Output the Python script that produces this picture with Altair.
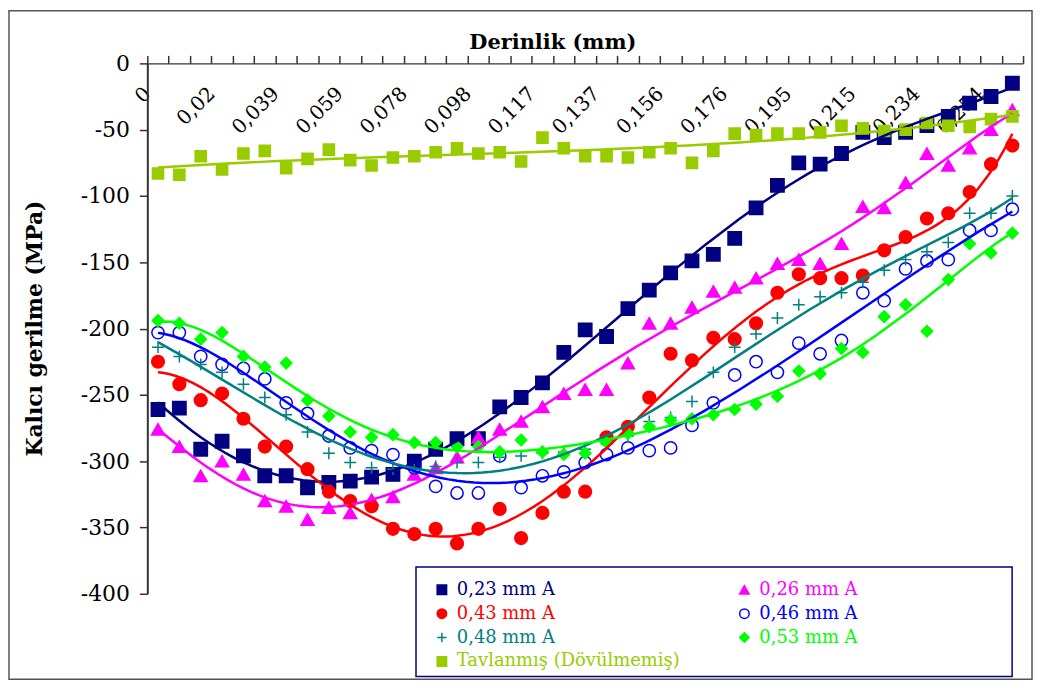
import altair as alt
import pandas as pd

# ---------------- data ----------------
DEPTHS = ["0", "0,007", "0,013", "0,02", "0,026", "0,033", "0,039", "0,046", "0,052",
          "0,059", "0,065", "0,072", "0,078", "0,085", "0,091", "0,098", "0,104",
          "0,111", "0,117", "0,124", "0,13", "0,137", "0,143", "0,15", "0,156",
          "0,163", "0,169", "0,176", "0,182", "0,189", "0,195", "0,202", "0,208",
          "0,215", "0,221", "0,228", "0,234", "0,241", "0,247", "0,254", "0,26"]
TICK_LABELS = ["0", "0,02", "0,039", "0,059", "0,078", "0,098", "0,117", "0,137",
               "0,156", "0,176", "0,195", "0,215", "0,234", "0,254"]
Y_TICKS = [-400, -350, -300, -250, -200, -150, -100, -50, 0]

S023 = [-261, -260, -291, -285, -296, -311, -311, -320, -316, -315, -312, -310, -300, -291,
        -283, -283, -259, -252, -241, -218, -201, -206, -185, -171, -158, -149, -144, -132,
        -109, -92, -75, -76, -68, -52, -56, -52, -47, -40, -30, -25, -15]
S026 = [-276, -289, -311, -300, -310, -330, -334, -344, -335, -339, -329, -327, -310, -305,
        -297, -282, -276, -270, -259, -249, -246, -246, -226, -196, -196, -184, -172, -169,
        -162, -151, -148, -151, -136, -108, -109, -90, -68, -77, -64, -50, -35]
S043 = [-225, -242, -254, -249, -268, -289, -289, -306, -323, -330, -334, -351, -355, -351,
        -362, -351, -336, -358, -339, -323, -323, -282, -274, -252, -219, -224, -207, -208,
        -196, -173, -159, -162, -162, -160, -141, -131, -117, -113, -97, -76, -62]
S046 = [-203, -203, -221, -227, -230, -238, -256, -264, -281, -290, -292, -295, -305, -319,
        -324, -324, -296, -320, -311, -308, -301, -295, -290, -292, -290, -273, -256, -235,
        -225, -233, -211, -219, -209, -173, -179, -155, -149, -148, -126, -126, -110]
S048 = [-214, -221, -227, -233, -242, -252, -265, -278, -294, -301, -305, -306, -306, -304,
        -301, -301, -297, -296, -294, -293, -291, -287, -281, -270, -267, -255, -233, -214,
        -204, -192, -182, -176, -173, -165, -156, -148, -142, -135, -113, -113, -100]
S053 = [-194, -196, -208, -203, -221, -229, -226, -254, -266, -278, -282, -280, -286, -286,
        -289, -289, -293, -284, -293, -295, -294, -286, -279, -274, -269, -268, -265, -261,
        -257, -251, -232, -234, -215, -218, -191, -182, -202, -163, -136, -143, -128]
STAV = [-83, -84, -70, -80, -68, -66, -79, -72, -65, -73, -77, -71, -70, -67, -64, -68, -67,
        -74, -56, -64, -70, -70, -71, -67, -64, -75, -66, -53, -54, -53, -53, -52, -47, -49,
        -51, -50, -45, -47, -48, -42, -40]

SERIES = ["0,23 mm A", "0,26 mm A", "0,43 mm A", "0,46 mm A", "0,48 mm A", "0,53 mm A",
          "Tavlanmış (Dövülmemiş)"]
VALUES = [S023, S026, S043, S046, S048, S053, STAV]

# ---------------- styles ----------------
COLORS = ["#000080", "#FF00FF", "#FF0000", "#0000FF", "#008080", "#00FF00", "#99CC00"]
FILLS = ["#000080", "#FF00FF", "#FF0000", "transparent", "transparent", "#00FF00", "#99CC00"]
SHAPES = ["square", "triangle-up", "circle", "circle", "M-1,0L1,0M0,-1L0,1", "diamond", "square"]
SIZES = [150, 150, 125, 100, 110, 180, 125]
TAV = SERIES[-1]
FONT = "DejaVu Serif"

rows = []
for name, vals in zip(SERIES, VALUES):
    for i, (d, v) in enumerate(zip(DEPTHS, vals)):
        rows.append({"i": i, "depth": d, "series": name, "value": v})
df = pd.DataFrame(rows)

# axis helpers
tick_pos = [k - 0.5 for k in range(len(DEPTHS) + 1)]
label_arr = [d if d in TICK_LABELS else "" for d in DEPTHS] + [""]
label_js = "[" + ",".join("'" + s + "'" for s in label_arr) + "]"
x_label_expr = label_js + "[round(datum.value + 0.5)]"

color_expr = ""
for name, col in zip(SERIES[:-1], COLORS[:-1]):
    color_expr += "datum.value === '" + name + "' ? '" + col + "' : "
color_expr += "'" + COLORS[-1] + "'"

x_scale = alt.Scale(domain=[-0.5, 40.5], nice=False, zero=False)
y_scale = alt.Scale(domain=[-400, 0], nice=False, zero=False)

x_axis = alt.Axis(
    orient="top", values=tick_pos, labelExpr=x_label_expr,
    labelAngle=-45, labelAlign="right", labelBaseline="middle", labelPadding=-35,
    labelFont=FONT, labelFontSize=20, labelColor="black",
    labelOverlap=False, labelFlush=False, labelBound=False,
    tickSize=8, tickWidth=1.5, tickColor="#333333",
    domainColor="#333333", domainWidth=1.5, grid=False,
    title="Derinlik (mm)", titleFont=FONT, titleFontSize=21, titleFontWeight="bold",
    titleColor="black", titleX=407, titleY=-15, titleAlign="center",
    titleBaseline="alphabetic",
)
y_axis = alt.Axis(
    values=Y_TICKS, labelExpr="datum.value + ''",
    labelFont=FONT, labelFontSize=22, labelColor="black", labelPadding=10,
    labelFlush=False, labelOverlap=False,
    tickSize=8, tickWidth=1.5, tickColor="#333333",
    domainColor="#333333", domainWidth=2, grid=False,
    title="Kalıcı gerilme (MPa)", titleFont=FONT, titleFontSize=22, titleFontWeight="bold",
    titleColor="black", titleX=-113, titleY=266, titleAngle=270,
    titleAlign="center", titleBaseline="middle",
)

leg = alt.Legend(
    title=None, orient="none", legendX=287, legendY=520, columns=2,
    direction="horizontal",
    columnPadding=56, rowPadding=6, padding=0,
    symbolSize=90, symbolStrokeWidth=1.5,
    labelFont=FONT, labelFontSize=18, labelOffset=6, labelLimit=500,
    labelColor={"expr": color_expr},
)

base = alt.Chart(df)

points = base.mark_point(strokeWidth=1.5, opacity=1).encode(
    x=alt.X("i:Q", scale=x_scale, axis=x_axis),
    y=alt.Y("value:Q", scale=y_scale, axis=y_axis),
    shape=alt.Shape("series:N", scale=alt.Scale(domain=SERIES, range=SHAPES), legend=leg),
    fill=alt.Fill("series:N", scale=alt.Scale(domain=SERIES, range=FILLS), legend=leg),
    stroke=alt.Stroke("series:N", scale=alt.Scale(domain=SERIES, range=COLORS), legend=leg),
    # reversed order -> a separate (hidden) guide that does not merge with the legend
    size=alt.Size("series:N", scale=alt.Scale(domain=SERIES[::-1], range=SIZES[::-1]),
                  legend=None),
)

def fit_layer(filter_expr, order):
    return base.transform_filter(filter_expr).transform_regression(
        "i", "value", method="poly", order=order, groupby=["series"]
    ).mark_line(strokeWidth=2.5).encode(
        x=alt.X("i:Q", scale=x_scale, axis=x_axis),
        y=alt.Y("value:Q", scale=y_scale, axis=y_axis),
        color=alt.Color("series:N", scale=alt.Scale(range=COLORS), legend=None),
    )

lines_main = fit_layer(alt.datum.series != TAV, 6)
lines_tav = fit_layer(alt.datum.series == TAV, 3)

one = pd.DataFrame({"k": [0]})
legend_box = alt.Chart(one).mark_rect(fill="white", stroke="#000080", strokeWidth=1.5).encode(
    x=alt.value(270), x2=alt.value(869), y=alt.value(506), y2=alt.value(616)
)
frame = alt.Chart(one).mark_rect(fillOpacity=0, stroke="#555555", strokeWidth=1.5).encode(
    x=alt.value(-139), x2=alt.value(889), y=alt.value(-53), y2=alt.value(619)
)

chart = alt.layer(points, lines_main, lines_tav, legend_box, frame).properties(
    width=880, height=533,
    background="white",
    autosize=alt.AutoSizeParams(type="none"),
    padding={"left": 140, "top": 54, "right": 10, "bottom": 87},
).configure_view(strokeWidth=0)

chart.save("out.html", embed_options={"renderer": "svg", "actions": False})
